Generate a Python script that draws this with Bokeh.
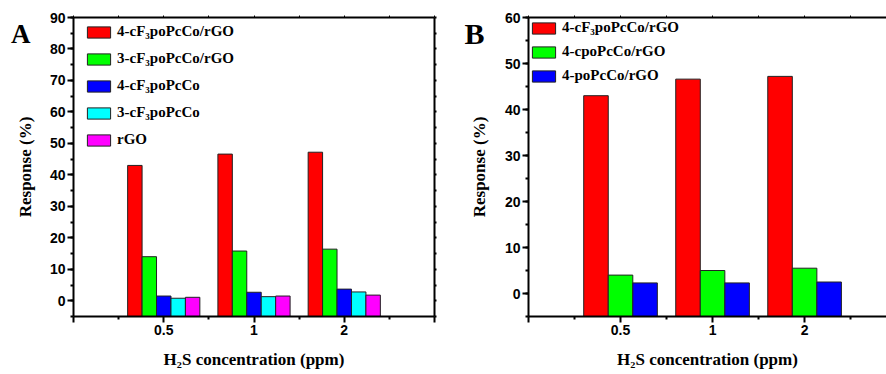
from bokeh.plotting import figure
from bokeh.models import Range1d, LinearAxis, FixedTicker, Legend, LegendItem
from bokeh.layouts import row
from bokeh.embed import file_html
from bokeh.resources import INLINE

# ---------------- data ----------------
concentrations = ["0.5", "1", "2"]

a_names = ["4-cF\u2083poPcCo/rGO", "3-cF\u2083poPcCo/rGO", "4-cF\u2083poPcCo", "3-cF\u2083poPcCo", "rGO"]
a_red = [43.0, 46.6, 47.2]
a_green = [14.0, 15.8, 16.4]
a_blue = [1.5, 2.7, 3.7]
a_cyan = [0.8, 1.3, 2.8]
a_magenta = [1.1, 1.5, 1.8]

b_names = ["4-cF\u2083poPcCo/rGO", "4-cpoPcCo/rGO", "4-poPcCo/rGO"]
b_red = [43.0, 46.6, 47.2]
b_green = [4.0, 5.0, 5.5]
b_blue = [2.3, 2.3, 2.5]

a_colors = ["#ff0000", "#00ff00", "#0000ff", "#00ffff", "#ff00ff"]
b_colors = ["#ff0000", "#00ff00", "#0000ff"]

SERIF = "'Liberation Serif'"
SANS = "'Liberation Sans'"

positions = [1, 2, 3]
TOTAL_H = 374


def style_axes(p, xmax, ymin, ymax, ystep, right, ylab_standoff):
    nmax = int(xmax)
    p.xaxis.ticker = FixedTicker(ticks=list(range(0, nmax + 1)),
                                 minor_ticks=[i + 0.5 for i in range(0, nmax + 1)])
    over = {0: ""}
    for i, c in enumerate(concentrations):
        over[positions[i]] = c
    for k in range(len(positions) + 1, nmax + 1):
        over[k] = ""
    p.xaxis.major_label_overrides = over
    p.yaxis.ticker = FixedTicker(ticks=list(range(0, ymax + 1, ystep)),
                                 minor_ticks=list(range(ymin, ymax + 1, ystep // 2)))
    for ax in [p.xaxis[0], p.yaxis[0]]:
        ax.axis_line_width = 2
        ax.axis_line_color = "black"
        ax.major_tick_line_width = 2
        ax.minor_tick_line_width = 2
        ax.major_tick_out = 6
        ax.major_tick_in = 0
        ax.minor_tick_out = 3
        ax.minor_tick_in = 0
        ax.major_label_text_font = SANS
        ax.major_label_text_font_style = "bold"
        ax.major_label_text_font_size = "14px"
        ax.major_label_text_color = "black"
        ax.axis_label_text_font = SERIF
        ax.axis_label_text_font_style = "bold"
        ax.axis_label_text_font_size = "17px"
        ax.axis_label_text_color = "black"
        ax.major_label_standoff = 2
    p.xaxis.axis_label = "H\u2082S concentration (ppm)"
    p.yaxis.axis_label = "Response (%)"
    p.xaxis[0].axis_label_standoff = 12
    p.yaxis[0].axis_label_standoff = ylab_standoff
    top = LinearAxis(ticker=FixedTicker(ticks=[], minor_ticks=[i * 0.5 for i in range(0, int(xmax * 2) + 1)]))
    top.axis_line_width = 2
    top.minor_tick_out = 2
    top.minor_tick_in = 0
    top.major_tick_out = 0
    top.major_label_text_font_size = "0px"
    top.major_label_standoff = 0
    top.minor_tick_line_width = 1
    p.add_layout(top, "above")
    if right:
        rt = LinearAxis(ticker=FixedTicker(ticks=[], minor_ticks=list(range(ymin, ymax + 1, ystep // 2))))
        rt.axis_line_width = 2
        rt.minor_tick_out = 2
        rt.minor_tick_in = 0
        rt.major_tick_out = 0
        rt.major_label_text_font_size = "0px"
        rt.major_label_standoff = 0
        rt.minor_tick_line_width = 2
        p.add_layout(rt, "right")


def add_letter(p, letter, y_val, size, shift):
    ax = LinearAxis(ticker=FixedTicker(ticks=[y_val], minor_ticks=[]))
    ax.major_label_overrides = {y_val: letter}
    ax.axis_line_color = None
    ax.major_tick_line_color = None
    ax.minor_tick_line_color = None
    ax.major_tick_out = 0
    ax.major_tick_in = 0
    ax.major_label_standoff = -shift
    ax.major_label_text_font = SERIF
    ax.major_label_text_font_style = "bold"
    ax.major_label_text_font_size = size
    ax.major_label_text_color = "black"
    p.add_layout(ax, "left")


def make_panel(letter, names, series, colors, xmax, ymin, ymax, ystep,
               frame_w, frame_h, border_left, border_right, right, letter_size,
               legend_spacing, legend_loc, letter_y, letter_shift, ylab_standoff):
    p = figure(output_backend="svg", toolbar_location=None,
               frame_width=frame_w, frame_height=frame_h,
               x_range=Range1d(0, xmax), y_range=Range1d(ymin, ymax),
               min_border_left=border_left, min_border_right=border_right,
               min_border_top=17, min_border_bottom=TOTAL_H - 17 - frame_h)
    p.grid.visible = False
    p.outline_line_color = None
    p.background_fill_color = "white"
    p.border_fill_color = "white"
    n = len(series)
    width = 0.8 / n
    items = []
    for i, (vals, col, nm) in enumerate(zip(series, colors, names)):
        xs = [x - 0.4 + width * (i + 0.5) for x in positions]
        r = p.vbar(x=xs, top=vals, bottom=ymin, width=width,
                   fill_color=col, line_color="#222222", line_width=1)
        items.append(LegendItem(label=nm, renderers=[r]))
    style_axes(p, xmax, ymin, ymax, ystep, right, ylab_standoff)
    add_letter(p, letter, letter_y, letter_size, letter_shift)
    leg = Legend(items=items, location=legend_loc, orientation="vertical")
    leg.glyph_width = 29
    leg.glyph_height = 14
    leg.label_standoff = 4
    leg.spacing = legend_spacing
    leg.padding = 0
    leg.margin = 0
    leg.border_line_color = None
    leg.background_fill_alpha = 0
    leg.label_text_font = SERIF
    leg.label_text_font_style = "bold"
    leg.label_text_font_size = "15px"
    leg.label_text_color = "black"
    p.add_layout(leg, "center")
    return p


pa = make_panel("A", a_names, [a_red, a_green, a_blue, a_cyan, a_magenta], a_colors,
                4, -5, 90, 10, 361, 299, 73, 20, True, "27px", 10, (11, 168),
                84.8, 18, 12)
pb = make_panel("B", b_names, [b_red, b_green, b_blue], b_colors,
                3.89, -5, 60, 10, 358, 299, 74, 0, False, "30px", 7, (1, 232),
                56.6, 18, 13)

layout = row(pa, pb, spacing=0)
open("out.html", "w").write(file_html(layout, INLINE))
